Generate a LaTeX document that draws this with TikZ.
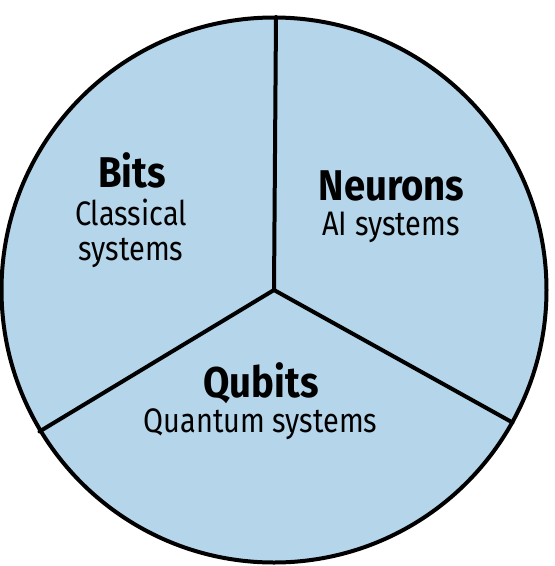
\documentclass[tikz,border=0pt]{standalone}
\usepackage{fontspec}
\setmainfont{Fira Sans}[FakeStretch=0.85]
\newfontfamily\titlefam{Fira Sans}[FakeStretch=0.89]
\definecolor{pie}{HTML}{B4D5EA}
\tikzset{
  title/.style={anchor=base, font=\titlefam\fontsize{43}{43}\selectfont\bfseries, inner sep=0pt},
  sub/.style={anchor=base, font=\fontsize{34}{34}\selectfont, inner sep=0pt, align=center},
  spoke/.style={line width=4pt, line cap=round},
}
\begin{document}
\begin{tikzpicture}[x=1pt,y=-1pt]
\useasboundingbox (0,0) rectangle (555,566);
\coordinate (c) at (274,290);
\draw[fill=pie, line width=4pt] (c) circle[radius=272.5];
\coordinate (top) at (276,17);
\coordinate (ll) at (39.5,431.5);
\coordinate (lr) at (512.5,422.5);
\draw[spoke] (c) -- (top);
\draw[spoke] (c) -- (ll);
\draw[spoke] (c) -- (lr);
\node[title] (bits) at (132,187) {Bits};
\node[sub] (bits1) at (131,225) {Classical};
\node[sub] (bits2) at (131,260) {systems};
\node[title] (neur) at (391.5,200) {Neurons};
\node[sub] (neur1) at (391,235) {AI systems};
\node[title] (qub) at (261,397) {Qubits};
\node[sub] (qub1) at (260.5,432) {Quantum systems};
\end{tikzpicture}
\end{document}
